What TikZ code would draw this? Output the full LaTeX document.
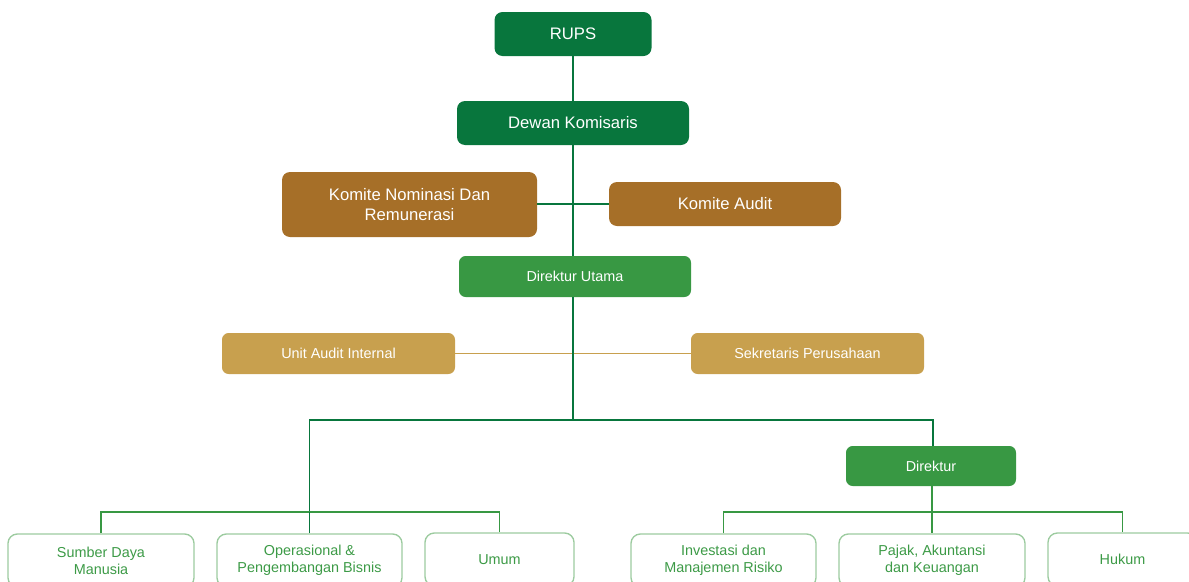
\documentclass[tikz,border=0pt]{standalone}
\usepackage{fontspec}
\setmainfont{Liberation Sans}
\usetikzlibrary{positioning}

\definecolor{darkgreen}{HTML}{08763D}
\definecolor{midgreen}{HTML}{389843}
\definecolor{brownbox}{HTML}{A66F28}
\definecolor{tanbox}{HTML}{C8A04E}
\definecolor{paleline}{HTML}{9CCB9F}
\definecolor{textgreen}{HTML}{3C9A46}

\begin{document}
\begin{tikzpicture}[x=0.75pt, y=-0.75pt,
    bigbox/.style={rectangle, rounded corners=6pt, text=white, align=center,
        font=\fontsize{12.5}{15}\selectfont},
    smallbox/.style={rectangle, rounded corners=5pt, text=white, align=center,
        font=\fontsize{10.8}{13}\selectfont},
    unitbox/.style={rectangle, rounded corners=7pt, draw=paleline, line width=1pt,
        text=textgreen, align=center, minimum height=39.75pt,
        font=\fontsize{10.8}{12.75}\selectfont},
    topline/.style={draw=darkgreen, line width=0.9pt},
    lowline/.style={draw=midgreen, line width=0.9pt},
    tanline/.style={draw=tanbox, line width=0.9pt}]
    \clip (0,0) rectangle (1189,582);

    \node (rups) [bigbox, fill=darkgreen, minimum width=117.75pt, minimum height=33pt] at (573,34) {RUPS};
    \node (dewan) [bigbox, fill=darkgreen, minimum width=174pt, minimum height=33pt] at (573,123) {Dewan Komisaris};
    \node (nominasi) [bigbox, fill=brownbox, minimum width=191.25pt, minimum height=48.75pt] at (409.5,204.5) {Komite Nominasi Dan\\Remunerasi};
    \node (audit) [bigbox, fill=brownbox, minimum width=174pt, minimum height=33pt] at (725,204) {Komite Audit};
    \node (dirut) [smallbox, fill=midgreen, minimum width=174pt, minimum height=30.75pt] at (575,276.5) {Direktur Utama};
    \node (uai) [smallbox, fill=tanbox, minimum width=174.75pt, minimum height=30.75pt] at (338.5,353.5) {Unit Audit Internal};
    \node (sekper) [smallbox, fill=tanbox, minimum width=174.75pt, minimum height=30.75pt] at (807.5,353.5) {Sekretaris Perusahaan};
    \node (direktur) [smallbox, fill=midgreen, minimum width=127.5pt, minimum height=30pt] at (931,466) {Direktur};

    \node (sdm) [unitbox, minimum width=139.5pt] at (101,560.5) {Sumber Daya\\Manusia};
    \node (ops) [unitbox, minimum width=138.75pt] at (309.5,560.5) {Operasional \&\\Pengembangan Bisnis};
    \node (umum) [unitbox, minimum width=111.75pt] at (499.5,559.5) {Umum};
    \node (invest) [unitbox, minimum width=138.75pt] at (723.5,560.5) {Investasi dan\\Manajemen Risiko};
    \node (pajak) [unitbox, minimum width=139.5pt] at (932,560.5) {Pajak, Akuntansi\\dan Keuangan};
    \node (hukum) [unitbox, minimum width=111.75pt] at (1122.5,559.5) {Hukum};

    \coordinate (split) at (573,420);
    \coordinate (leftbar) at (309,512);
    \coordinate (rightbar) at (932,512);

    % upper chain
    \draw[topline] (rups.south) -- (dewan.north);
    \draw[topline] (dewan.south) -- (dewan.south |- dirut.north);
    \draw[topline] (nominasi.east |- audit.west) -- (audit.west);
    \draw[tanline] (uai.east) -- (sekper.west);

    % down to the directors
    \draw[topline] (dirut.south -| split) -- (split);
    \draw[topline] (ops.north) |- (split) -| ([xshift=1.5pt]direktur.north);

    % units
    \draw[lowline] (sdm.north) |- (leftbar) -| (umum.north);
    \draw[lowline] (invest.north) |- (rightbar) -| (hukum.north);
    \draw[lowline] (pajak.north |- direktur.south) -- (pajak.north);
    \draw[topline] (ops.north |- leftbar) -- (ops.north);
\end{tikzpicture}
\end{document}
